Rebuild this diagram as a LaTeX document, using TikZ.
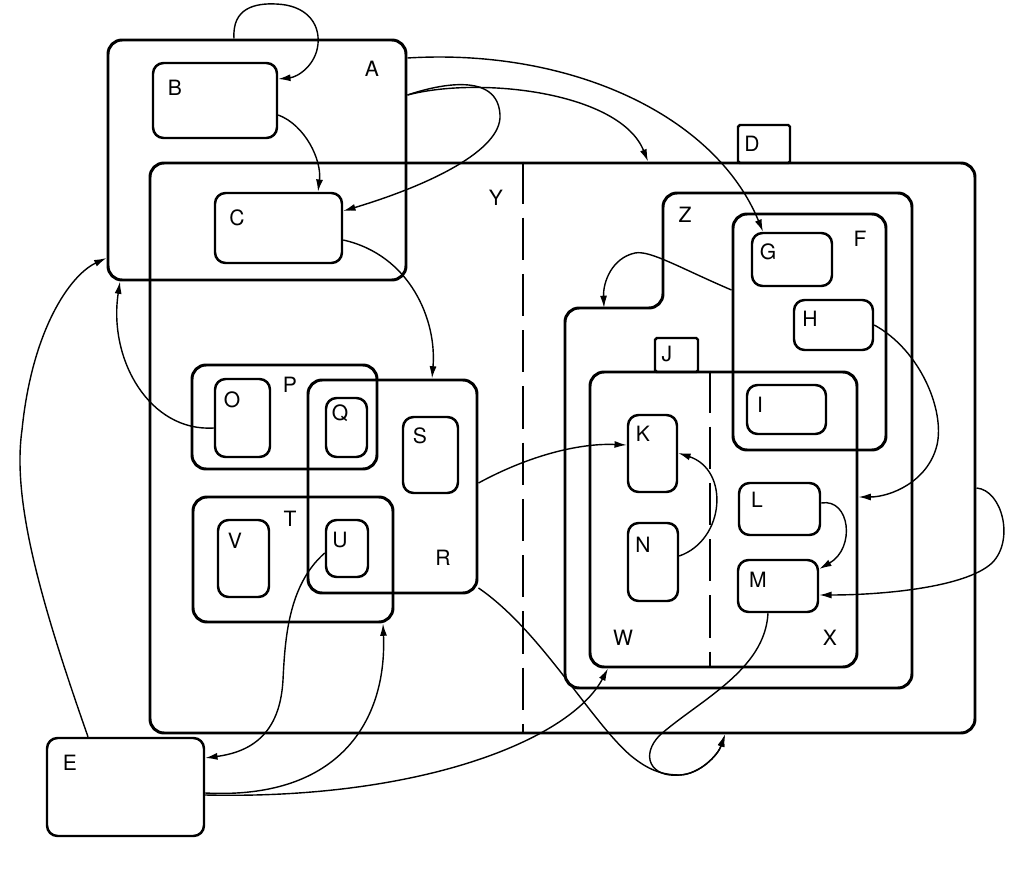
\documentclass[tikz,border=0pt]{standalone}
\usepackage{fontspec}
\setsansfont{TeX Gyre Heros}
\usetikzlibrary{arrows.meta,fit,calc}

\begin{document}
\begin{tikzpicture}[x=0.2mm,y=-0.2mm,
  box/.style={draw,line width=1.7pt,rounded corners=8pt,inner sep=0pt},
  sub/.style={draw,line width=1.4pt,rounded corners=6pt,inner sep=0pt},
  tab/.style={draw,line width=1.4pt,rounded corners=1pt,inner sep=0pt},
  lbl/.style={font=\sffamily\fontsize{12}{14}\selectfont,inner sep=0pt},
  tr/.style={line width=0.8pt,-{Latex[length=7pt,width=4pt]}},
  divide/.style={line width=1.2pt,dash pattern=on 24pt off 8pt}]
  \useasboundingbox (0,0) rectangle (1024,873);

  \foreach \n/\xa/\ya/\xb/\yb in {A/108/40/406/280, D/150/163/975/733, P/192/365/377/469,
      R/308/380/477/593, T/193/497/393/622, F/733/214/886/450, J/590/372/857/667}
    \node[box,fit={(\xa,\ya) (\xb,\yb)}] (\n) {};
  \foreach \n/\xa/\ya/\xb/\yb in {B/153/63/277/138, C/215/193/342/263, E/47/738/204/836,
      O/215/379/270/457, Q/326/398/367/457, S/403/417/458/493, V/218/520/269/597,
      U/326/520/368/577, G/752/233/832/286, H/794/300/873/350, I/747/385/826/434,
      K/628/415/677/492, N/628/523/678/601, L/739/483/820/535, M/738/560/818/612}
    \node[sub,fit={(\xa,\ya) (\xb,\yb)}] (\n) {};
  \node[tab,fit={(738,125) (790,163)}] (Dtab) {};
  \node[tab,fit={(655,338) (698,372)}] (Jtab) {};
  \draw[line width=1.7pt,rounded corners=8pt] (663,250) -- (663,193) -- (912,193) -- (912,688)
    -- (565,688) -- (565,308) coordinate (Zstep) -- (663,308) -- cycle;

  \draw[divide] (523,0 |- D.north) -- (523,0 |- D.south);
  \draw[divide] (710,0 |- J.north) -- (710,0 |- J.south);

  \foreach \n/\px/\py in {A/372/69, B/175/88, C/237/218, D/752/144, Y/496/198, Z/685/215,
      F/860/239, G/768/252, H/810/319, I/760/405, J/667/354, K/643/434, L/757/500,
      M/758/580, N/643/545, O/232/400, P/290/385, Q/340/413, R/443/558, S/420/436,
      T/290/519, U/340/540, V/235/541, W/623/638, X/830/638, E/70/763}
    \node[lbl] (l\n) at (\px,\py) {\n};

  \draw[tr] (234,0 |- A.north) .. controls (232,8) and (255,3) .. (276,4)
    .. controls (305,5) and (320,22) .. (318,44) .. controls (316,65) and (298,77) .. (B.east |- 0,79);
  \draw[tr] (B.east |- 0,115) .. controls (305,125) and (322,160) .. (318,0 |- C.north);
  \draw[tr] (A.east |- 0,95) .. controls (440,84) and (498,72) .. (500,115)
    .. controls (502,150) and (430,185) .. (C.east |- 0,211);
  \draw[tr] (A.east |- 0,95) .. controls (480,76) and (620,92) .. (648,0 |- D.north);
  \draw[tr] (A.east |- 0,58) .. controls (570,48) and (715,115) .. (763,0 |- G.north);
  \draw[tr] (C.east |- 0,240) .. controls (410,255) and (437,320) .. (432,0 |- R.north);
  \draw[tr] (O.west |- 0,428) .. controls (150,432) and (108,360) .. (120,0 |- A.south);
  \draw[tr] (88,0 |- E.north) .. controls (40,600) and (12,500) .. (22,430)
    .. controls (32,330) and (70,275) .. (A.west |- 0,258);
  \draw[tr] (U.west |- 0,553) .. controls (288,585) and (285,640) .. (283,680)
    .. controls (280,735) and (250,752) .. (E.east |- 0,758);
  \draw[tr] (E.east |- 0,793) .. controls (340,800) and (387,720) .. (383,0 |- T.south);
  \draw[tr] (E.east |- 0,795) .. controls (420,800) and (570,740) .. (608,0 |- J.south);
  \draw[tr] (R.east |- 0,483) .. controls (530,455) and (580,443) .. (K.west |- 0,445);
  \draw[tr] (N.east |- 0,556) .. controls (725,540) and (730,470) .. (K.east |- 0,453);
  \draw[tr] (R.east |- 0,588) .. controls (540,630) and (590,720) .. (630,755)
    .. controls (648,770) and (662,775) .. (680,775) .. controls (700,774) and (718,755) .. (725,0 |- D.south);
  \draw[tr] (768,0 |- M.south) .. controls (765,670) and (700,700) .. (660,735)
    .. controls (640,755) and (650,778) .. (680,775) .. controls (700,774) and (718,755) .. (725,0 |- D.south);
  \draw[tr] (F.west |- 0,290) .. controls (680,268) and (650,250) .. (635,253)
    .. controls (612,258) and (603,282) .. (604,0 |- Zstep);
  \draw[tr] (H.east |- 0,325) .. controls (920,350) and (945,410) .. (937,445)
    .. controls (928,482) and (890,497) .. (J.east |- 0,497);
  \draw[tr] (L.east |- 0,503) .. controls (850,498) and (856,548) .. (M.east |- 0,569);
  \draw[tr] (D.east |- 0,488) .. controls (1002,490) and (1015,540) .. (992,563)
    .. controls (965,588) and (880,595) .. (M.east |- 0,595);
\end{tikzpicture}
\end{document}
